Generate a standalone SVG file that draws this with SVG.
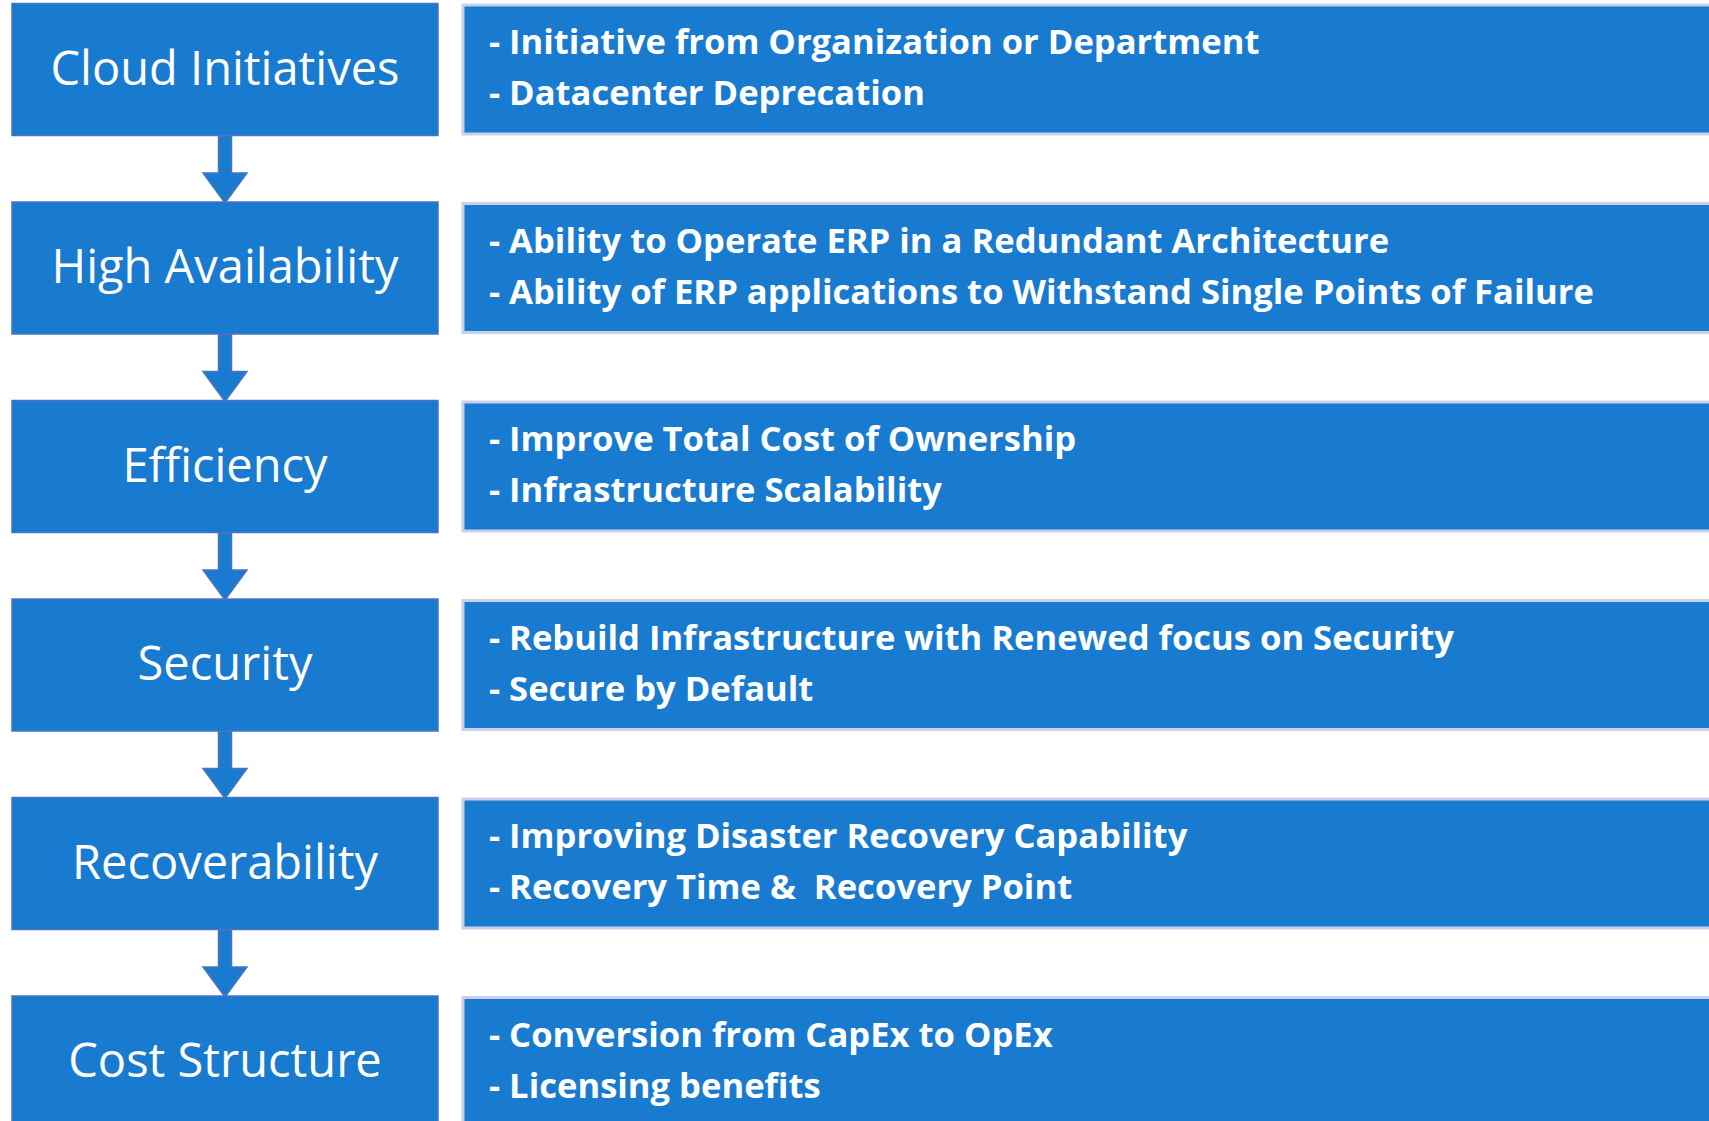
<svg xmlns="http://www.w3.org/2000/svg" width="1709" height="1121" viewBox="0 0 1709 1121">
<style>
.lbox{fill:#197bd0;stroke:#4a73c2;stroke-width:1.5}
.rbox{fill:#197bd0;stroke:#c9d1ea;stroke-width:3}
.ltxt{font-family:"Open Sans",sans-serif;font-size:47px;fill:#fff;text-anchor:middle}
.rtxt{font-family:"Open Sans",sans-serif;font-weight:bold;font-size:34.6px;fill:#fff}
.arr{fill:#197bd0;stroke:#4a73c2;stroke-width:1.5}
</style>
<rect width="1709" height="1121" fill="#fff"/>
<g id="connectors">
<polygon class="arr" points="218.5,136 231.5,136 231.5,173 247,173 225,203 203,173 218.5,173"/>
<polygon class="arr" points="218.5,334.5 231.5,334.5 231.5,371.5 247,371.5 225,401.5 203,371.5 218.5,371.5"/>
<polygon class="arr" points="218.5,533 231.5,533 231.5,570 247,570 225,600 203,570 218.5,570"/>
<polygon class="arr" points="218.5,731.5 231.5,731.5 231.5,768.5 247,768.5 225,798.5 203,768.5 218.5,768.5"/>
<polygon class="arr" points="218.5,930 231.5,930 231.5,967 247,967 225,997 203,967 218.5,967"/>
</g>
<g id="n1">
<rect class="lbox" x="12" y="3.5" width="426" height="132"/>
<text class="ltxt" x="225" y="84.5">Cloud Initiatives</text>
</g>
<g id="d1">
<rect class="rbox" x="463" y="5" width="1260" height="129"/>
<text class="rtxt" x="489" y="54">- Initiative from Organization or Department</text>
<text class="rtxt" x="489" y="105">- Datacenter Deprecation</text>
</g>
<g id="n2">
<rect class="lbox" x="12" y="202" width="426" height="132"/>
<text class="ltxt" x="225" y="283">High Availability</text>
</g>
<g id="d2">
<rect class="rbox" x="463" y="203.5" width="1260" height="129"/>
<text class="rtxt" x="489" y="252.5">- Ability to Operate ERP in a Redundant Architecture</text>
<text class="rtxt" x="489" y="303.5">- Ability of ERP applications to Withstand Single Points of Failure</text>
</g>
<g id="n3">
<rect class="lbox" x="12" y="400.5" width="426" height="132"/>
<text class="ltxt" x="225" y="481.5">Efficiency</text>
</g>
<g id="d3">
<rect class="rbox" x="463" y="402" width="1260" height="129"/>
<text class="rtxt" x="489" y="451">- Improve Total Cost of Ownership</text>
<text class="rtxt" x="489" y="502">- Infrastructure Scalability</text>
</g>
<g id="n4">
<rect class="lbox" x="12" y="599" width="426" height="132"/>
<text class="ltxt" x="225" y="680">Security</text>
</g>
<g id="d4">
<rect class="rbox" x="463" y="600.5" width="1260" height="129"/>
<text class="rtxt" x="489" y="649.5">- Rebuild Infrastructure with Renewed focus on Security</text>
<text class="rtxt" x="489" y="700.5">- Secure by Default</text>
</g>
<g id="n5">
<rect class="lbox" x="12" y="797.5" width="426" height="132"/>
<text class="ltxt" x="225" y="878.5">Recoverability</text>
</g>
<g id="d5">
<rect class="rbox" x="463" y="799" width="1260" height="129"/>
<text class="rtxt" x="489" y="848">- Improving Disaster Recovery Capability</text>
<text class="rtxt" x="489" y="899" xml:space="preserve">- Recovery Time &amp;  Recovery Point</text>
</g>
<g id="n6">
<rect class="lbox" x="12" y="996" width="426" height="132"/>
<text class="ltxt" x="225" y="1077">Cost Structure</text>
</g>
<g id="d6">
<rect class="rbox" x="463" y="997.5" width="1260" height="129"/>
<text class="rtxt" x="489" y="1046.5">- Conversion from CapEx to OpEx</text>
<text class="rtxt" x="489" y="1097.5">- Licensing benefits</text>
</g>
</svg>
